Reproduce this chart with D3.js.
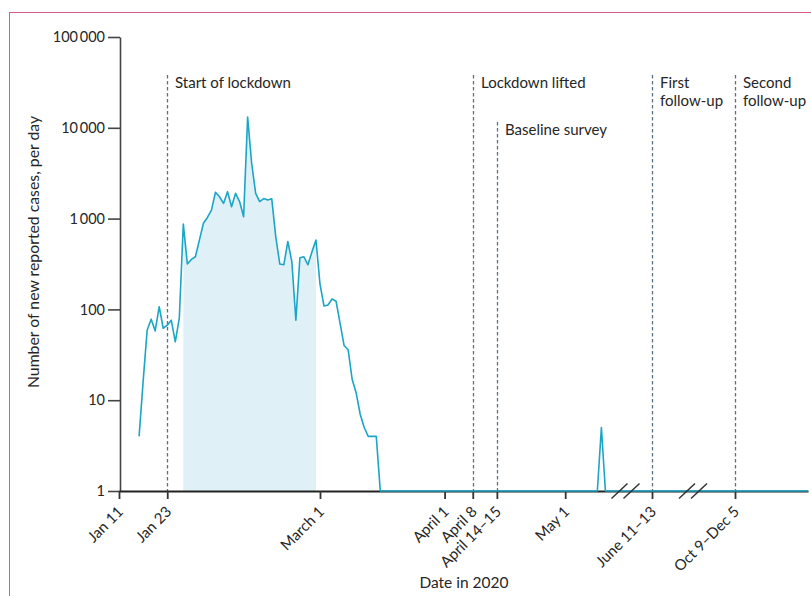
<!DOCTYPE html>
<html>
<head>
<meta charset="utf-8">
<script src="https://cdnjs.cloudflare.com/ajax/libs/d3/7.8.5/d3.min.js"></script>
<style>
  html, body { margin: 0; padding: 0; background: #fff; }
  svg { display: block; font-family: Lato, "Noto Sans", sans-serif; }
</style>
</head>
<body>
<div id="chart"></div>
<script>
// daily new reported cases, one value per day starting Jan 16, 2020
const firstDay = '2020-01-16';
const dailyCases = [4, 16, 59, 78, 58, 107, 62, 67, 76, 44, 80, 870, 316, 355, 380, 580,
  890, 1030, 1240, 1950, 1740, 1470, 1980, 1350, 1900, 1540, 1050, 13100, 4070, 1900,
  1540, 1660, 1600, 1650, 630, 316, 310, 560, 336, 76, 370, 380, 310, 430, 580, 190,
  109, 112, 130, 123, 70, 40, 36, 17, 12, 7, 5, 4, 4, 4, 1];
// sparse later points
const laterDates = ['2020-05-09', '2020-05-10', '2020-05-11', '2020-12-31'];
const laterCases = [1, 5, 1, 1];
// shaded period under the curve
const shadeStart = '2020-01-27';
const shadeEnd = '2020-02-29';

const yTicks = [1, 10, 100, 1000, 10000, 100000];
const xTickDates = ['2020-01-11', '2020-01-23', '2020-03-01', '2020-04-01', '2020-04-08',
  '2020-04-14', '2020-05-01', '2020-06-12', '2020-11-06'];
const xTickLabels = ['Jan 11', 'Jan 23', 'March 1', 'April 1', 'April 8',
  'April 14\u201315', 'May 1', 'June 11\u201313', 'Oct 9\u2013Dec 5'];
const eventDates = ['2020-01-23', '2020-04-08', '2020-04-14', '2020-06-12', '2020-11-06'];
const eventLabels = [['Start of lockdown'], ['Lockdown lifted'], ['Baseline survey'],
  ['First', 'follow-up'], ['Second', 'follow-up']];
// where the time axis is broken
const breakDates = ['2020-05-16', '2020-09-01'];
// scale anchors of the broken axis
const scaleDates = ['2020-01-11', '2020-05-16', '2020-06-12', '2020-09-01', '2020-11-06', '2020-12-31'];

const parse = d3.timeParse('%Y-%m-%d');
const W = 811, H = 596;
const font = 'Lato, "Noto Sans", sans-serif';

const svg = d3.select('#chart').append('svg')
  .attr('width', W).attr('height', H);

// pink frame
svg.append('rect')
  .attr('x', 9.5).attr('y', 12.5)
  .attr('width', 900).attr('height', 700)
  .attr('fill', 'none').attr('stroke', '#d65a82').attr('stroke-width', 1);

const x = d3.scaleTime()
  .domain(scaleDates.map(parse))
  .range([119, 625.5, 652, 693, 735, 808]);
const y = d3.scaleLog()
  .domain([1, 100000])
  .range([491, 37]);

const start = parse(firstDay);
const data = dailyCases.map((v, i) => ({ date: d3.timeDay.offset(start, i), value: v }))
  .concat(laterDates.map((d, i) => ({ date: parse(d), value: laterCases[i] })));

const s0 = parse(shadeStart), s1 = parse(shadeEnd);
const shaded = data.filter(d => d.date >= s0 && d.date <= s1);

svg.append('path')
  .datum(shaded)
  .attr('fill', '#dff0f7')
  .attr('d', d3.area()
    .x(d => x(d.date))
    .y0(y(1))
    .y1(d => y(d.value)));

// event lines
const ev = svg.append('g');
eventDates.forEach((d, i) => {
  const ex = Math.round(x(parse(d))) + 0.5;
  const top = i === 2 ? 122 : 75;
  ev.append('line')
    .attr('x1', ex).attr('x2', ex)
    .attr('y1', top).attr('y2', y(1))
    .attr('stroke', '#5a7282')
    .attr('stroke-width', 1.3)
    .attr('stroke-dasharray', '3.5,2.5');
  const t = ev.append('text')
    .attr('x', ex + 7.5)
    .attr('y', top + 13)
    .attr('font-size', 15)
    .attr('fill', '#262626');
  eventLabels[i].forEach((l, j) => {
    t.append('tspan').attr('x', ex + 7.5).attr('dy', j ? 18 : 0).text(l);
  });
});

// y axis
const yAxis = svg.append('g')
  .attr('transform', 'translate(120,0)')
  .call(d3.axisLeft(y)
    .tickValues(yTicks)
    .tickFormat(d => d3.format(',')(d).replace(/,/g, '\u2009'))
    .tickSize(12)
    .tickSizeOuter(0)
    .tickPadding(3));
yAxis.select('.domain').attr('stroke', '#444').attr('stroke-width', 1.6);
yAxis.selectAll('.tick line').attr('stroke', '#444').attr('stroke-width', 1.6);
yAxis.selectAll('text').attr('font-size', 14.5).attr('fill', '#262626')
  .attr('font-family', font);

// x axis
const xAxis = svg.append('g')
  .attr('transform', 'translate(0,' + y(1) + ')')
  .call(d3.axisBottom(x)
    .tickValues(xTickDates.map(parse))
    .tickFormat((d, i) => xTickLabels[i])
    .tickSize(8)
    .tickSizeOuter(0));
xAxis.select('.domain').attr('stroke', '#222').attr('stroke-width', 2);
xAxis.selectAll('.tick line').attr('stroke', '#333').attr('stroke-width', 1.8);
xAxis.selectAll('text')
  .attr('x', 0).attr('y', 0).attr('dy', '0.35em')
  .attr('text-anchor', 'end')
  .attr('transform', 'translate(1,18) rotate(-45)')
  .attr('font-size', 15).attr('fill', '#262626')
  .attr('font-family', font);

// the case line
svg.append('path')
  .datum(data)
  .attr('fill', 'none')
  .attr('stroke', '#1ba6c6')
  .attr('stroke-width', 1.6)
  .attr('stroke-linejoin', 'round')
  .attr('d', d3.line()
    .x(d => x(d.date))
    .y(d => y(d.value)));

// axis break marks
breakDates.forEach(d => {
  const bx = x(parse(d));
  [-6, 6].forEach(o => {
    svg.append('line')
      .attr('x1', bx + o - 8).attr('y1', y(1) + 7.5)
      .attr('x2', bx + o + 8).attr('y2', y(1) - 7.5)
      .attr('stroke', '#333').attr('stroke-width', 1.5);
  });
});

// axis titles
svg.append('text')
  .attr('transform', 'translate(39,252) rotate(-90)')
  .attr('text-anchor', 'middle')
  .attr('font-size', 15.8)
  .attr('fill', '#262626')
  .text('Number of new reported cases, per day');

svg.append('text')
  .attr('x', 464).attr('y', 588)
  .attr('text-anchor', 'middle')
  .attr('font-size', 15.5)
  .attr('fill', '#262626')
  .text('Date in 2020');
</script>
</body>
</html>
